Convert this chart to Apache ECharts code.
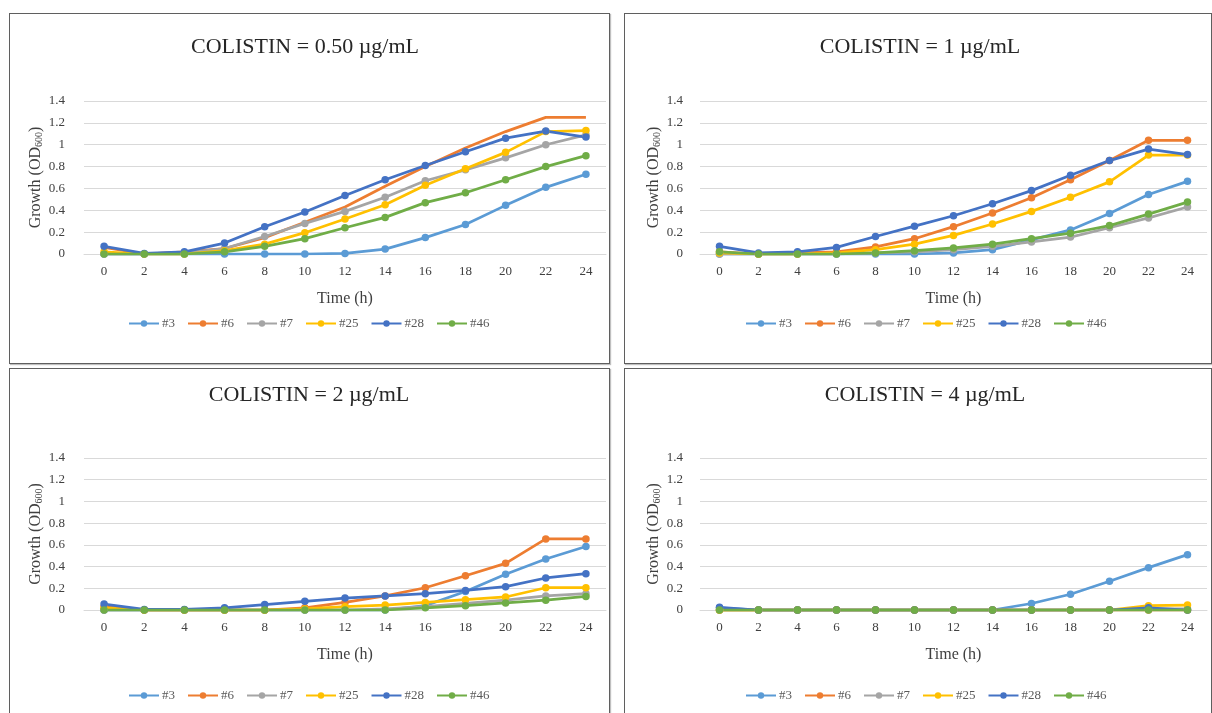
<!DOCTYPE html>
<html>
<head>
<meta charset="utf-8">
<script src="https://cdn.jsdelivr.net/npm/echarts@6/dist/echarts.min.js"></script>
<style>
  html, body { margin: 0; padding: 0; background: #ffffff; width: 1212px; height: 713px; overflow: hidden; position: relative; }
  .box { position: absolute; border: 1.5px solid #5f5f5f; box-sizing: border-box; box-shadow: 1px 1px 1px rgba(0,0,0,0.25); }
  .chart { position: absolute; left: 0; top: 0; width: 1212px; height: 713px; }
</style>
</head>
<body>
<div class="box" style="left:9px;top:13px;width:601px;height:351px;"></div>
<div class="box" style="left:624px;top:13px;width:588px;height:351px;"></div>
<div class="box" style="left:9px;top:368px;width:601px;height:360px;"></div>
<div class="box" style="left:624px;top:368px;width:588px;height:360px;"></div>
<div id="c1" class="chart"></div>
<div id="c2" class="chart"></div>
<div id="c3" class="chart"></div>
<div id="c4" class="chart"></div>
<script>
// ---- data ----
const timeLabels = ['0','2','4','6','8','10','12','14','16','18','20','22','24'];
const seriesNames = ['#3','#6','#7','#25','#28','#46'];
const seriesColors = ['#5B9BD5','#ED7D31','#A5A5A5','#FFC000','#4472C4','#70AD47'];
const panelTitles = ['COLISTIN = 0.50 \u00b5g/mL','COLISTIN = 1 \u00b5g/mL','COLISTIN = 2 \u00b5g/mL','COLISTIN = 4 \u00b5g/mL'];
const yTicks = [0, 0.2, 0.4, 0.6, 0.8, 1, 1.2, 1.4];

// COLISTIN = 0.50 ug/mL
const c050_s3  = [0, 0, 0, 0, 0, 0, 0.005, 0.045, 0.15, 0.27, 0.445, 0.61, 0.73];
const c050_s6  = [0.06, 0, 0.02, 0.05, 0.15, 0.29, 0.43, 0.62, 0.80, 0.97, 1.12, 1.25, 1.25];
const c050_s7  = [0, 0, 0.01, 0.05, 0.16, 0.28, 0.39, 0.52, 0.67, 0.77, 0.88, 1.0, 1.09];
const c050_s25 = [0.02, 0, 0, 0.03, 0.09, 0.195, 0.32, 0.45, 0.63, 0.78, 0.93, 1.12, 1.13];
const c050_s28 = [0.07, 0.005, 0.02, 0.10, 0.25, 0.385, 0.535, 0.68, 0.81, 0.935, 1.06, 1.125, 1.07];
const c050_s46 = [0, 0, 0, 0.02, 0.07, 0.14, 0.24, 0.335, 0.47, 0.56, 0.68, 0.80, 0.90];

// COLISTIN = 1 ug/mL
const c1_s3  = [0, 0, 0, 0, 0, 0, 0.01, 0.04, 0.13, 0.22, 0.37, 0.545, 0.665];
const c1_s6  = [0.02, 0, 0.01, 0.02, 0.065, 0.14, 0.25, 0.375, 0.515, 0.68, 0.855, 1.04, 1.04];
const c1_s7  = [0, 0, 0, 0, 0.01, 0.02, 0.04, 0.07, 0.11, 0.155, 0.24, 0.33, 0.43];
const c1_s25 = [0.01, 0, 0, 0.01, 0.04, 0.09, 0.17, 0.275, 0.39, 0.52, 0.66, 0.905, 0.905];
const c1_s28 = [0.07, 0.01, 0.02, 0.06, 0.16, 0.255, 0.35, 0.46, 0.58, 0.72, 0.855, 0.96, 0.91];
const c1_s46 = [0.02, 0, 0, 0, 0.01, 0.03, 0.055, 0.09, 0.14, 0.19, 0.26, 0.365, 0.475];

// COLISTIN = 2 ug/mL
const c2_s3  = [0, 0, 0, 0, 0, 0, 0, 0, 0.04, 0.17, 0.33, 0.47, 0.585];
const c2_s6  = [0.03, 0, 0, 0, 0, 0.02, 0.07, 0.13, 0.205, 0.315, 0.43, 0.655, 0.655];
const c2_s7  = [0, 0, 0, 0, 0, 0, 0, 0.01, 0.03, 0.06, 0.09, 0.13, 0.15];
const c2_s25 = [0.02, 0, 0, 0, 0, 0.01, 0.03, 0.045, 0.07, 0.095, 0.12, 0.205, 0.205];
const c2_s28 = [0.055, 0.005, 0.005, 0.02, 0.05, 0.08, 0.11, 0.13, 0.15, 0.18, 0.215, 0.295, 0.335];
const c2_s46 = [0, 0, 0, 0, 0, 0, 0, 0, 0.02, 0.04, 0.065, 0.09, 0.125];

// COLISTIN = 4 ug/mL
const c4_s3  = [0.02, 0, 0, 0, 0, 0, 0, 0, 0.06, 0.145, 0.265, 0.39, 0.51];
const c4_s6  = [0, 0, 0, 0, 0, 0, 0, 0, 0, 0, 0, 0, 0];
const c4_s7  = [0, 0, 0, 0, 0, 0, 0, 0, 0, 0, 0, 0.01, 0.01];
const c4_s25 = [0, 0, 0, 0, 0, 0, 0, 0, 0, 0, 0, 0.04, 0.045];
const c4_s28 = [0.025, 0, 0, 0, 0, 0, 0, 0, 0, 0, 0, 0.02, 0];
const c4_s46 = [0, 0, 0, 0, 0, 0, 0, 0, 0, 0, 0, 0, 0];

const panelData = [
  [c050_s3, c050_s6, c050_s7, c050_s25, c050_s28, c050_s46],
  [c1_s3, c1_s6, c1_s7, c1_s25, c1_s28, c1_s46],
  [c2_s3, c2_s6, c2_s7, c2_s25, c2_s28, c2_s46],
  [c4_s3, c4_s6, c4_s7, c4_s25, c4_s28, c4_s46]
];

// ---- layout (page coordinates) ----
const FONT = '"Liberation Serif", "DejaVu Serif", serif';
const layouts = [
  { gl: 84,  gw: 522, gt: 101, gh: 153, tx: 305, ty: 36,  lx: 128, ly: 317, yGap: 35, lm: 19 },
  { gl: 700, gw: 507, gt: 101, gh: 153, tx: 920, ty: 36,  lx: 745, ly: 317, yGap: 34, lm: 17 },
  { gl: 84,  gw: 522, gt: 458, gh: 152, tx: 309, ty: 384, lx: 128, ly: 689, yGap: 35, lm: 19 },
  { gl: 700, gw: 507, gt: 458, gh: 152, tx: 925, ty: 384, lx: 745, ly: 689, yGap: 34, lm: 17 }
];

function buildOption(p) {
  const L = layouts[p];
  const series = seriesNames.map((nm, i) => ({
    name: nm,
    type: 'line',
    data: panelData[p][i],
    symbol: (p === 0 && i === 1) ? 'none' : 'circle',
    symbolSize: 7.5,
    lineStyle: { width: 2.75, color: seriesColors[i] },
    itemStyle: { color: seriesColors[i] },
    emphasis: { disabled: true },
    animation: false
  }));
  return {
    animation: false,
    title: {
      text: panelTitles[p],
      left: L.tx, top: L.ty, textAlign: 'center', padding: 0,
      textStyle: { fontFamily: FONT, fontSize: 22, fontWeight: 'normal', color: '#262626' }
    },
    legend: {
      data: seriesNames,
      left: L.lx, top: L.ly, padding: 0,
      itemWidth: 30, itemHeight: 8, itemGap: 12,
      textStyle: { fontFamily: FONT, fontSize: 13, color: '#595959', padding: [0, 0, 0, -2] }
    },
    grid: { left: L.gl, top: L.gt, width: L.gw, height: L.gh, containLabel: false },
    xAxis: {
      type: 'category',
      data: timeLabels,
      boundaryGap: true,
      name: 'Time (h)',
      nameLocation: 'middle',
      nameGap: 37,
      nameTextStyle: { fontFamily: FONT, fontSize: 16, color: '#404040' },
      axisLine: { show: true, lineStyle: { color: '#d9d9d9', width: 1 } },
      axisTick: { show: false },
      axisLabel: { fontFamily: FONT, fontSize: 13, color: '#404040', margin: 11, interval: 0 },
      splitLine: { show: false }
    },
    yAxis: {
      type: 'value',
      min: yTicks[0], max: yTicks[yTicks.length - 1], interval: 0.2,
      name: '{a|Growth (OD}{s|600}{a|)}',
      nameLocation: 'middle',
      nameGap: L.yGap,
      nameRotate: 90,
      nameTextStyle: {
        fontFamily: FONT, fontSize: 16, color: '#404040',
        rich: {
          a: { fontFamily: FONT, fontSize: 16, color: '#404040' },
          s: { fontFamily: FONT, fontSize: 10, color: '#404040', padding: [9, 0, 0, 0] }
        }
      },
      axisLine: { show: false },
      axisTick: { show: false },
      axisLabel: { fontFamily: FONT, fontSize: 13, color: '#404040', margin: L.lm },
      splitLine: { show: true, lineStyle: { color: '#d9d9d9', width: 1 } }
    },
    series: series
  };
}

['c1','c2','c3','c4'].forEach((id, p) => {
  const chart = echarts.init(document.getElementById(id), null, { renderer: 'canvas', width: 1212, height: 713 });
  chart.setOption(buildOption(p));
});
</script>
</body>
</html>
